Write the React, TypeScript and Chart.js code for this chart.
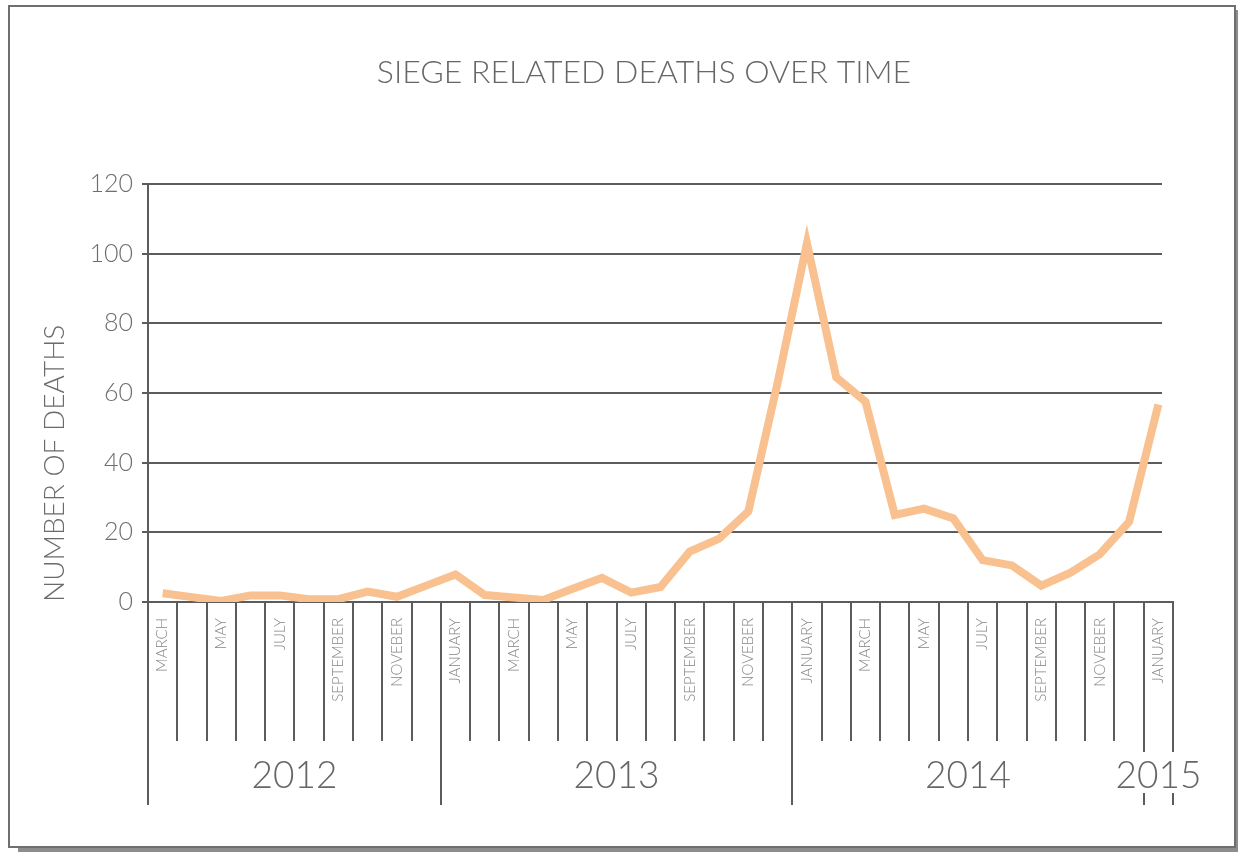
import { useEffect, useRef } from 'react';
import { Chart, registerables } from 'chart.js';

Chart.register(...registerables);

// ---- data ----
const months = [
  'Mar 2012', 'Apr 2012', 'May 2012', 'Jun 2012', 'Jul 2012', 'Aug 2012', 'Sep 2012', 'Oct 2012', 'Nov 2012', 'Dec 2012',
  'Jan 2013', 'Feb 2013', 'Mar 2013', 'Apr 2013', 'May 2013', 'Jun 2013', 'Jul 2013', 'Aug 2013', 'Sep 2013', 'Oct 2013', 'Nov 2013', 'Dec 2013',
  'Jan 2014', 'Feb 2014', 'Mar 2014', 'Apr 2014', 'May 2014', 'Jun 2014', 'Jul 2014', 'Aug 2014', 'Sep 2014', 'Oct 2014', 'Nov 2014', 'Dec 2014',
  'Jan 2015',
];

const monthTickLabels = [
  'MARCH', '', 'MAY', '', 'JULY', '', 'SEPTEMBER', '', 'NOVEBER', '',
  'JANUARY', '', 'MARCH', '', 'MAY', '', 'JULY', '', 'SEPTEMBER', '', 'NOVEBER', '',
  'JANUARY', '', 'MARCH', '', 'MAY', '', 'JULY', '', 'SEPTEMBER', '', 'NOVEBER', '',
  'JANUARY',
];

const deaths = [
  2.5, 1.4, 0.3, 1.9, 1.9, 0.8, 0.8, 3.0, 1.5, 4.7,
  7.9, 2.0, 1.3, 0.6, 3.8, 6.9, 2.7, 4.3, 14.5, 18.2, 26, 63,
  103, 64.5, 57.5, 25, 26.8, 24, 12, 10.5, 4.7, 8.4, 13.7, 23,
  56.7,
];

const yTickValues = [0, 20, 40, 60, 80, 100, 120];

const TITLE = 'SIEGE RELATED DEATHS OVER TIME';
const Y_TITLE = 'NUMBER OF DEATHS';

// ---- styles ----
const FONT = 'Lato, "Open Sans", sans-serif';
const RULE = '#5c5c5c';
const LINE_COLOR = '#F8C18F';

const decorPlugin = {
  id: 'decor',
  beforeDatasetsDraw(chart: any) {
    const { ctx, chartArea, scales } = chart;
    const y = scales.y;
    ctx.save();
    ctx.strokeStyle = RULE;
    ctx.lineWidth = 2;
    for (const v of yTickValues) {
      if (v === 0) continue;
      const py = Math.round(y.getPixelForValue(v));
      ctx.beginPath();
      ctx.moveTo(chartArea.left, py);
      ctx.lineTo(chartArea.right - 11, py);
      ctx.stroke();
    }
    ctx.restore();
  },
  afterDraw(chart: any) {
    const { ctx, chartArea, scales } = chart;
    const x = scales.x;
    const n = months.length;
    const axisY = Math.round(chartArea.bottom);
    const boundary = (i: number) => Math.round(x.getPixelForValue(i - 0.5));
    const yearOf = months.map((m) => m.split(' ')[1]);
    const yearStarts: number[] = [];
    yearOf.forEach((yr, i) => {
      if (i === 0 || yr !== yearOf[i - 1]) yearStarts.push(i);
    });
    const lastStart = yearStarts[yearStarts.length - 1];

    ctx.save();
    ctx.strokeStyle = RULE;
    ctx.lineWidth = 2;
    const seg = (px: number, y0: number, y1: number) => {
      ctx.beginPath();
      ctx.moveTo(px, y0);
      ctx.lineTo(px, y1);
      ctx.stroke();
    };
    for (let i = 0; i <= n; i++) {
      const px = boundary(i);
      if (i >= lastStart) {
        seg(px, axisY, axisY + 150);
        seg(px, axisY + 191, axisY + 203);
      } else if (yearStarts.includes(i)) {
        seg(px, axisY, axisY + 203);
      } else {
        seg(px, axisY, axisY + 139);
      }
    }

    // year labels
    ctx.fillStyle = '#666666';
    ctx.font = `300 37px ${FONT}`;
    ctx.textAlign = 'center';
    ctx.textBaseline = 'middle';
    yearStarts.forEach((s, k) => {
      const e = k + 1 < yearStarts.length ? yearStarts[k + 1] : n;
      const cx = (boundary(s) + boundary(e)) / 2;
      ctx.fillText(yearOf[s], cx, axisY + 174);
    });

    // chart title
    ctx.fillStyle = '#666666';
    ctx.font = `300 32px ${FONT}`;
    ctx.fillText(TITLE, 644, 73);
    ctx.restore();
  },
};

export default function App() {
  const canvasRef = useRef<HTMLCanvasElement | null>(null);

  useEffect(() => {
    if (!canvasRef.current) return;
    const chart = new Chart(canvasRef.current, {
      type: 'line',
      data: {
        labels: months,
        datasets: [
          {
            data: deaths,
            borderColor: LINE_COLOR,
            borderWidth: 8,
            borderJoinStyle: 'miter',
            pointRadius: 0,
            tension: 0,
            fill: false,
          },
        ],
      },
      options: {
        responsive: false,
        animation: false,
        devicePixelRatio: 1,
        layout: { padding: { left: 0, right: 65, top: 184, bottom: 0 } },
        plugins: {
          legend: { display: false },
          title: { display: false },
          tooltip: { enabled: false },
        },
        scales: {
          x: {
            type: 'category',
            offset: true,
            grid: { display: false, offset: true },
            border: { display: true, color: RULE, width: 2 },
            ticks: {
              autoSkip: false,
              maxRotation: 90,
              minRotation: 90,
              padding: 8,
              color: '#858585',
              font: { family: FONT, size: 15, weight: '300' },
              callback: (_v: any, i: number) => monthTickLabels[i],
            },
            afterFit: (scale: any) => {
              scale.height = 250;
            },
          },
          y: {
            min: 0,
            max: 120,
            ticks: {
              stepSize: 20,
              padding: 9,
              color: '#6e6e6e',
              font: { family: FONT, size: 25, weight: '300' },
            },
            grid: {
              display: true,
              drawOnChartArea: false,
              drawTicks: true,
              tickLength: 6,
              color: RULE,
              lineWidth: 2,
            },
            border: { display: true, color: RULE, width: 2 },
            title: {
              display: true,
              text: Y_TITLE,
              align: 'start',
              color: '#6b6b6b',
              font: { family: FONT, size: 28, weight: '300' },
              padding: { top: 38, bottom: 0 },
            },
            afterFit: (scale: any) => {
              scale.width = 148;
            },
          },
        },
      },
      plugins: [decorPlugin],
    } as any);
    return () => chart.destroy();
  }, []);

  return (
    <div style={{ position: 'absolute', left: 0, top: 0, width: 1238, height: 852, background: '#ffffff', overflow: 'hidden' }}>
      <div
        style={{
          position: 'absolute',
          left: 8,
          top: 5,
          width: 1228,
          height: 843,
          boxSizing: 'border-box',
          border: '2px solid #6f6f6f',
          boxShadow: '10px 5px 0 #8d8d8d',
          background: '#ffffff',
        }}
      />
      <canvas
        ref={canvasRef}
        width={1238}
        height={852}
        style={{ position: 'absolute', left: 0, top: 0, width: 1238, height: 852 }}
      />
    </div>
  );
}
